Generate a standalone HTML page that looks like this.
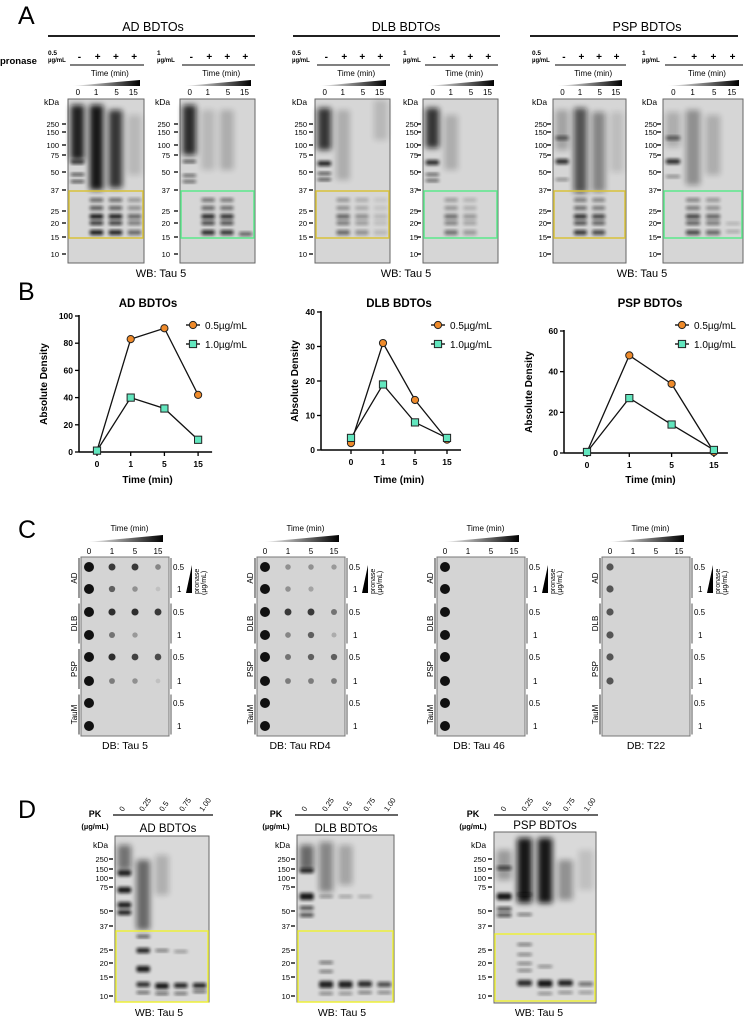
<!DOCTYPE html>
<html><head><meta charset="utf-8">
<style>
html,body{margin:0;padding:0;background:#fff;}
svg{display:block;font-family:"Liberation Sans",sans-serif;}
</style></head>
<body>
<svg id="fig" width="745" height="1020" viewBox="0 0 745 1020" xmlns="http://www.w3.org/2000/svg">
<defs>
<filter id="blur" x="-50%" y="-50%" width="200%" height="200%"><feGaussianBlur stdDeviation="1.6"/></filter>
<filter id="blur2" x="-50%" y="-50%" width="200%" height="200%"><feGaussianBlur stdDeviation="3"/></filter>
<linearGradient id="wedge" x1="0" x2="1" y1="0" y2="0"><stop offset="0" stop-color="#fff"/><stop offset="1" stop-color="#000"/></linearGradient>
</defs>
</svg>
<script>
// ---------- Panel B chart data ----------
const timeCats = ["0","1","5","15"];
const adHigh = [1, 83, 91, 42];
const adLow = [1, 40, 32, 9];
const dlbHigh = [2, 31, 14.5, 3];
const dlbLow = [3.5, 19, 8, 3.5];
const pspHigh = [0.5, 48, 34, 0.5];
const pspLow = [0.5, 27, 14, 1.5];
const adTicks = [0, 20, 40, 60, 80, 100];
const dlbTicks = [0, 10, 20, 30, 40];
const pspTicks = [0, 20, 40, 60];
const legendLabels = ["0.5µg/mL", "1.0µg/mL"];

const NS = "http://www.w3.org/2000/svg";
const svg = document.getElementById("fig");
function mk(tag, attrs, parent) {
  const e = document.createElementNS(NS, tag);
  for (const k in attrs) e.setAttribute(k, attrs[k]);
  (parent || svg).appendChild(e);
  return e;
}
function txt(x, y, s, size, parent, extra) {
  const a = Object.assign({x: x, y: y, "font-size": size, fill: "#000"}, extra || {});
  const t = mk("text", a, parent);
  t.textContent = s;
  return t;
}
function line(x1, y1, x2, y2, w, parent, col) {
  return mk("line", {x1: x1, y1: y1, x2: x2, y2: y2, stroke: col || "#000", "stroke-width": w}, parent);
}

// ---------- panel letters ----------
[["A", 18, 24], ["B", 18, 300], ["C", 18, 538], ["D", 18, 818]].forEach(p => {
  const t = txt(p[1], p[2], p[0], 25, svg);
  
  
});

// ---------- generic gel ----------
function drawGel(name, x, y, w, h, nL, lanes, markers, kdaX, boxCol, boxY1, boxY2, bg) {
  const g = mk("g", {});
  
  
  const r = mk("rect", {x: x, y: y, width: w, height: h, fill: bg || "#d6d6d6", stroke: "#666", "stroke-width": 1}, g);
  
  
  const lw = w / nL;
  lanes.forEach(b => {
    const cx = x + lw * (b[0] + 0.5);
    const isSmear = b[3] === "s";
    const e = mk("rect", {x: cx - lw * 0.36, y: b[1], width: lw * 0.72, height: b[2], fill: "#111", opacity: isSmear ? b[4] : b[3], filter: isSmear ? "url(#blur2)" : "url(#blur)", rx: 2}, g);
    
    
  });
  if (boxCol) {
    const bx = mk("rect", {x: x + 1, y: boxY1, width: w - 2, height: boxY2 - boxY1, fill: "none", stroke: boxCol, "stroke-width": 1.5}, g);
    
    
  }
  const kt = txt(kdaX, markers.kda, "kDa", 8.5, g);
  
  
  markers.list.forEach(m => {
    const t = txt(kdaX + 15, m[1] + 3, m[0], 7.5, g, {"text-anchor": "end"});
    
    
    line(x - 6, m[1], x - 2, m[1], 1.3, g);
  });
  return g;
}
const mA = {kda: 105, list: [["250", 124], ["150", 132], ["100", 145], ["75", 155], ["50", 172], ["37", 190], ["25", 211], ["20", 223], ["15", 237], ["10", 254]]};
const mD = {kda: 848, list: [["250", 859], ["150", 869], ["100", 878], ["75", 887], ["50", 911], ["37", 926], ["25", 950], ["20", 963], ["15", 977], ["10", 996]]};

function lowBands(l, op) { return [[l, 198, 4, op * 0.6], [l, 206, 4, op * 0.7], [l, 214, 5, op], [l, 221, 4, op * 0.9], [l, 230, 5, op]]; }

// ---------- Panel A ----------
function panelAHeader(title, cx, x1, x2, gels) {
  const g = mk("g", {});
  
  
  txt(cx, 31, title, 12.5, g, {"text-anchor": "middle"});
  line(x1, 36, x2, 36, 1.8, g);
  gels.forEach((gx, i) => {
    const x = gx[0], w = gx[1];
    const conc = i === 0 ? "0.5" : "1";
    txt(gx[2], 55, conc, 6.5, g, {"font-weight": "bold"});
    txt(gx[2], 62, "µg/mL", 6, g, {"font-weight": "bold"});
    ["-", "+", "+", "+"].forEach((s, k) => txt(x + w * (0.15 + k * 0.24), 60, s, 10, g, {"text-anchor": "middle", "font-weight": "bold"}));
    line(x + 2, 65, x + w, 65, 1, g);
    txt(x + w * 0.55, 76, "Time (min)", 8, g, {"text-anchor": "middle"});
    mk("polygon", {points: (x + 4) + ",86 " + (x + w - 4) + ",86 " + (x + w - 4) + ",80", fill: "url(#wedge)"}, g);
    ["0", "1", "5", "15"].forEach((s, k) => txt(x + w * [0.13, 0.37, 0.64, 0.86][k], 95, s, 8, g, {"text-anchor": "middle"}));
  });
  return g;
}
const pr = txt(0, 64, "pronase", 9.5, svg, {"font-weight": "bold"});



panelAHeader("AD   BDTOs", 153, 48, 255, [[68, 76, 48], [180, 75, 157]]);
panelAHeader("DLB BDTOs", 406, 293, 500, [[315, 75, 292], [423, 75, 403]]);
panelAHeader("PSP BDTOs", 647, 530, 738, [[553, 73, 532], [663, 80, 642]]);

drawGel("ad-gel-0.5", 68, 99, 76, 164, 4,
  [[0, 105, 55, "s", 0.9], [0, 160, 4, 0.8], [0, 173, 3, 0.7], [0, 180, 3, 0.7],
   [1, 105, 85, "s", 0.95], [2, 110, 78, "s", 0.8], [3, 115, 60, "s", 0.15]]
   .concat(lowBands(1, 0.95), lowBands(2, 0.9), lowBands(3, 0.55)), mA, 44, "#d8c23a", 191, 238);
drawGel("ad-gel-1", 180, 99, 75, 164, 4,
  [[0, 105, 50, "s", 0.85], [0, 160, 3, 0.7], [0, 174, 3, 0.6], [0, 180, 3, 0.6],
   [1, 110, 60, "s", 0.15], [2, 110, 60, "s", 0.2], [3, 232, 4, 0.6]]
   .concat(lowBands(1, 0.85), lowBands(2, 0.8)), mA, 155, "#5ce88c", 191, 238);
drawGel("dlb-gel-0.5", 315, 99, 75, 164, 4,
  [[0, 108, 42, "s", 0.8], [0, 161, 5, 0.9], [0, 172, 3, 0.7], [0, 178, 3, 0.7],
   [1, 110, 70, "s", 0.2], [3, 100, 40, "s", 0.15]]
   .concat(lowBands(1, 0.55), lowBands(2, 0.35), lowBands(3, 0.15)), mA, 292, "#d8c23a", 191, 238);
drawGel("dlb-gel-1", 423, 99, 75, 164, 4,
  [[0, 108, 40, "s", 0.8], [0, 160, 5, 0.85], [0, 173, 3, 0.6], [0, 179, 3, 0.6],
   [1, 115, 55, "s", 0.2]]
   .concat(lowBands(1, 0.5), lowBands(2, 0.3)), mA, 403, "#5ce88c", 191, 238);
drawGel("psp-gel-0.5", 553, 99, 73, 164, 4,
  [[0, 110, 40, "s", 0.25], [0, 136, 4, 0.6], [0, 159, 5, 0.85], [0, 178, 3, 0.4],
   [1, 108, 85, "s", 0.65], [2, 112, 80, "s", 0.4], [3, 112, 60, "s", 0.12]]
   .concat(lowBands(1, 0.8), lowBands(2, 0.7)), mA, 532, "#d8c23a", 191, 238);
drawGel("psp-gel-1", 663, 99, 80, 164, 4,
  [[0, 112, 35, "s", 0.2], [0, 136, 4, 0.6], [0, 159, 5, 0.85], [0, 175, 3, 0.4],
   [1, 110, 75, "s", 0.35], [2, 115, 60, "s", 0.2]]
   .concat(lowBands(1, 0.7), lowBands(2, 0.55), [[3, 222, 3, 0.2], [3, 230, 3, 0.25]]), mA, 642, "#5ce88c", 191, 238);
[[161, "wb-label-ad"], [406, "wb-label-dlb"], [642, "wb-label-psp"]].forEach(p => {
  const t = txt(p[0], 277, "WB: Tau 5", 11, svg, {"text-anchor": "middle"});
  
  
});

// ---------- Panel B charts ----------
function chart(name, title, ax, x0, xStep, yZero, yTop, yMax, ticks, hi, lo, titleX, legX, ylabX) {
  const g = mk("g", {});
  
  
  const yS = v => yZero - (v / yMax) * (yZero - yTop);
  const xS = i => x0 + i * xStep;
  const tt = txt(titleX, 307, title, 11.5, g, {"text-anchor": "middle", "font-weight": "bold"});
  
  
  const yl = txt(0, 0, "Absolute Density", 10, g, {"text-anchor": "middle", "font-weight": "bold", transform: "translate(" + ylabX + "," + ((yZero + yTop) / 2) + ") rotate(-90)"});
  
  
  const ya = line(ax, yTop - 1, ax, yZero, 1.5, g);
  
  
  const xa = line(ax, yZero, xS(3) + 14, yZero, 1.5, g);
  
  
  ticks.forEach(v => {
    line(ax - 4, yS(v), ax, yS(v), 1.3, g);
    const t = txt(ax - 6, yS(v) + 3, String(v), 8.5, g, {"text-anchor": "end", "font-weight": "bold"});
    
    
  });
  timeCats.forEach((c, i) => {
    line(xS(i), yZero, xS(i), yZero + 4, 1.3, g);
    const t = txt(xS(i), yZero + 15, c, 8.5, g, {"text-anchor": "middle", "font-weight": "bold"});
    
    
  });
  const xt = txt((xS(0) + xS(3)) / 2, 483, "Time (min)", 10, g, {"text-anchor": "middle", "font-weight": "bold"});
  
  
  [[hi, "circle", "#ee8a2a"], [lo, "square", "#62e6be"]].forEach((s, si) => {
    const pts = s[0].map((v, i) => xS(i) + "," + yS(v)).join(" ");
    const pl = mk("polyline", {points: pts, fill: "none", stroke: "#111", "stroke-width": 1.3}, g);
    
    
    s[0].forEach((v, i) => {
      let m;
      if (s[1] === "circle") m = mk("circle", {cx: xS(i), cy: yS(v), r: 3.6, fill: s[2], stroke: "#222", "stroke-width": 1}, g);
      else m = mk("rect", {x: xS(i) - 3.6, y: yS(v) - 3.6, width: 7.2, height: 7.2, fill: s[2], stroke: "#222", "stroke-width": 1}, g);
      
      
    });
    const ly = 325 + si * 19;
    line(legX - 7, ly, legX + 7, ly, 1.3, g);
    let lm;
    if (s[1] === "circle") lm = mk("circle", {cx: legX, cy: ly, r: 3.6, fill: s[2], stroke: "#222"}, g);
    else lm = mk("rect", {x: legX - 3.6, y: ly - 3.6, width: 7.2, height: 7.2, fill: s[2], stroke: "#222"}, g);
    
    
    const lt = txt(legX + 12, ly + 4, legendLabels[si], 10, g);
    
    
  });
}
chart("chart-ad", "AD BDTOs", 79, 97, 33.7, 452, 316, 100, adTicks, adHigh, adLow, 148, 193, 47);
chart("chart-dlb", "DLB BDTOs", 321, 351, 32, 450, 312, 40, dlbTicks, dlbHigh, dlbLow, 399, 438, 298);
chart("chart-psp", "PSP BDTOs", 564, 587, 42.3, 453, 331, 60, pspTicks, pspHigh, pspLow, 650, 682, 532);

// ---------- Panel C dot blots ----------
const dotRowsY = [567, 589, 612, 635, 657, 681, 703, 726];
function dotBlot(name, x, label, labCx, dots, dotCol) {
  const g = mk("g", {});
  
  
  const w = 88;
  txt(x + w * 0.55, 531, "Time (min)", 8, g, {"text-anchor": "middle"});
  mk("polygon", {points: (x + 6) + ",542 " + (x + w - 6) + ",542 " + (x + w - 6) + ",535", fill: "url(#wedge)"}, g);
  ["0", "1", "5", "15"].forEach((s, k) => txt(x + 8 + k * 23, 554, s, 8, g, {"text-anchor": "middle"}));
  const r = mk("rect", {x: x, y: 557, width: w, height: 179, fill: "#d4d4d4", stroke: "#777", "stroke-width": 1}, g);
  
  
  dots.forEach((row, ri) => row.forEach((o, ci) => {
    if (o <= 0) return;
    const rad = ci === 0 ? (dotCol ? 3.6 : 5) : 2.2 + o * 1.6;
    const d = mk("circle", {cx: x + 8 + ci * 23, cy: dotRowsY[ri], r: rad, fill: dotCol || "#111", opacity: ci === 0 ? 1 : o}, g);
    
    
  }));
  ["AD", "DLB", "PSP", "TauM"].forEach((s, k) => {
    const yc = (dotRowsY[k * 2] + dotRowsY[k * 2 + 1]) / 2;
    txt(0, 0, s, 8, g, {"text-anchor": "middle", transform: "translate(" + (x - 4) + "," + yc + ") rotate(-90)"});
    line(x - 2, yc - 20, x - 2, yc + 20, 1.2, g, "#555");
    txt(x + w + 4, dotRowsY[k * 2] + 3, "0.5", 8, g);
    txt(x + w + 8, dotRowsY[k * 2 + 1] + 3, "1", 8, g);
    line(x + w + 2, yc - 20, x + w + 2, yc + 20, 1, g, "#555");
  });
  mk("polygon", {points: (x + w + 17) + ",593 " + (x + w + 23) + ",565 " + (x + w + 23) + ",593", fill: "#000"}, g);
  txt(0, 0, "pronase", 7, g, {transform: "translate(" + (x + w + 30) + ",594) rotate(-90)"});
  txt(0, 0, "(µg/mL)", 7, g, {transform: "translate(" + (x + w + 37) + ",595) rotate(-90)"});
  const lt = txt(labCx, 749, label, 10.5, g, {"text-anchor": "middle"});
  
  
}
const blotRowsTau5 = [[1, .8, .8, .4], [1, .6, .35, .1], [1, .85, .85, .8], [1, .5, .3, 0], [1, .85, .75, .7], [1, .45, .35, .1], [1, 0, 0, 0], [1, 0, 0, 0]];
const blotRowsRD4 = [[1, .35, .35, .3], [1, .35, .25, 0], [1, .8, .8, .5], [1, .4, .6, .2], [1, .5, .6, .6], [1, .45, .45, .45], [1, 0, 0, 0], [1, 0, 0, 0]];
const blotRows46 = [[1, 0, 0, 0], [1, 0, 0, 0], [1, 0, 0, 0], [1, 0, 0, 0], [1, 0, 0, 0], [1, 0, 0, 0], [1, 0, 0, 0], [1, 0, 0, 0]];
const blotRowsT22 = [[1, 0, 0, 0], [1, 0, 0, 0], [1, 0, 0, 0], [1, 0, 0, 0], [1, 0, 0, 0], [1, 0, 0, 0], [0, 0, 0, 0], [0, 0, 0, 0]];
dotBlot("dot-blot-tau5", 81, "DB: Tau 5", 125, blotRowsTau5);
dotBlot("dot-blot-tau-rd4", 257, "DB: Tau RD4", 300, blotRowsRD4);
dotBlot("dot-blot-tau46", 437, "DB: Tau 46", 479, blotRows46);
dotBlot("dot-blot-t22", 602, "DB: T22", 646, blotRowsT22, "#555");

// ---------- Panel D ----------
function panelDHeader(x1, x2, pkX, title, titleX, titleY) {
  const g = mk("g", {});
  
  
  txt(pkX, 817, "PK", 9, g, {"text-anchor": "middle", "font-weight": "bold"});
  txt(pkX, 829, "(µg/mL)", 7.5, g, {"text-anchor": "middle", "font-weight": "bold"});
  line(x1, 815, x2, 815, 1.5, g, "#333");
  const lw = (x2 - x1) / 5;
  ["0", "0.25", "0.5", "0.75", "1.00"].forEach((s, k) => txt(0, 0, s, 7.5, g, {transform: "translate(" + (x1 + lw * (k + 0.5)) + ",812) rotate(-55)"}));
  const t = txt(titleX, titleY, title, 11.5, g, {"text-anchor": "middle"});
  
  
}
panelDHeader(113, 213, 95, "AD   BDTOs", 168, 832);
panelDHeader(295, 398, 276, "DLB BDTOs", 346, 832);
panelDHeader(494, 598, 473, "PSP BDTOs", 545, 829);
drawGel("pk-gel-ad", 115, 836, 94, 166, 5,
  [[0, 845, 25, "s", 0.5], [0, 870, 6, 0.9], [0, 887, 6, 0.95], [0, 902, 6, 0.9], [0, 910, 5, 0.9],
   [1, 860, 70, "s", 0.55], [1, 935, 3, 0.7], [1, 948, 5, 0.9], [1, 966, 6, 0.95], [1, 982, 5, 0.85], [1, 991, 3, 0.6],
   [2, 855, 40, "s", 0.2], [2, 949, 3, 0.5], [2, 983, 6, 0.95], [2, 992, 3, 0.6],
   [3, 950, 3, 0.35], [3, 983, 5, 0.9], [3, 992, 3, 0.55], [4, 983, 5, 0.9], [4, 990, 3, 0.6]], mD, 93, "#eef03a", 931, 1002, "#d9d9d9");
drawGel("pk-gel-dlb", 297, 835, 97, 167, 5,
  [[0, 845, 25, "s", 0.55], [0, 868, 5, 0.85], [0, 893, 7, 0.95], [0, 906, 4, 0.7], [0, 913, 4, 0.7],
   [1, 842, 50, "s", 0.4], [1, 895, 3, 0.4], [1, 961, 3, 0.55], [1, 970, 3, 0.5], [1, 981, 7, 0.9], [1, 992, 3, 0.45],
   [2, 845, 40, "s", 0.25], [2, 895, 3, 0.3], [2, 981, 7, 0.9], [2, 992, 3, 0.4],
   [3, 895, 3, 0.25], [3, 981, 6, 0.85], [3, 991, 3, 0.5], [4, 982, 5, 0.7], [4, 991, 3, 0.45]], mD, 275, "#eef03a", 931, 1002, "#d9d9d9");
drawGel("pk-gel-psp", 494, 832, 102, 171, 5,
  [[0, 850, 30, "s", 0.3], [0, 866, 4, 0.7], [0, 893, 7, 0.95], [0, 907, 4, 0.7], [0, 913, 4, 0.7],
   [1, 838, 65, "s", 0.95], [1, 893, 3, 0.6], [1, 913, 3, 0.5], [1, 943, 3, 0.5], [1, 953, 3, 0.45], [1, 962, 3, 0.45], [1, 969, 3, 0.45], [1, 980, 6, 0.85],
   [2, 838, 65, "s", 0.95], [2, 965, 3, 0.4], [2, 980, 7, 0.95], [2, 992, 3, 0.4],
   [3, 860, 40, "s", 0.35], [3, 980, 6, 0.9], [3, 991, 3, 0.4], [4, 850, 40, "s", 0.12], [4, 982, 4, 0.55], [4, 991, 3, 0.35]], mD, 471, "#eef03a", 934, 1001, "#d9d9d9");
[[159, "wb-label-pk-ad"], [342, "wb-label-pk-dlb"], [539, "wb-label-pk-psp"]].forEach(p => {
  const t = txt(p[0], 1016, "WB: Tau 5", 10.5, svg, {"text-anchor": "middle"});
  
  
});
</script>
</body></html>
